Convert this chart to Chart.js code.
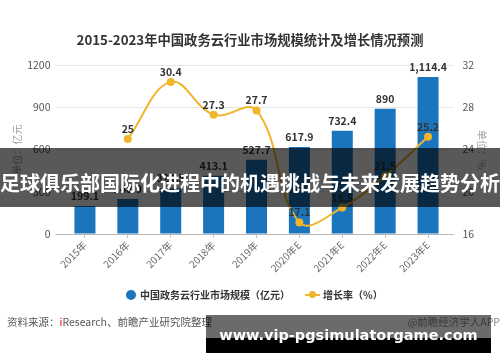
<!DOCTYPE html>
<html>
<head>
<meta charset="utf-8">
<script src="https://cdn.jsdelivr.net/npm/chart.js@4/dist/chart.umd.min.js"></script>
<style>
  html, body { margin: 0; padding: 0; background: #fff; }
  #wrap { position: relative; width: 500px; height: 362px; overflow: hidden; font-family: "Noto Sans CJK SC", sans-serif; }
  #chart { position: absolute; left: 0; top: 0; }
  .abs { position: absolute; white-space: nowrap; }
  #title { left: 0; width: 500px; top: 30px; text-align: center; font-size: 13.3px; font-weight: bold; color: #333; line-height: 20px; }
  #legend { left: 0; top: 287px; width: 500px; height: 16px; font-size: 10px; font-weight: bold; color: #333; line-height: 16px; }
  .dot { position: absolute; width: 10px; height: 10px; border-radius: 50%; }
  .seg { position: absolute; height: 2px; }
  #source { left: 7px; top: 314px; font-size: 10.5px; color: #555; line-height: 16px; }
  #source .red { color: #e60012; }
  #brand { right: 0; top: 314px; font-size: 10.5px; color: #888; line-height: 16px; }
  #band { left: 0; top: 148px; width: 500px; height: 59px; background: rgba(0,0,0,0.65); }
  #bandText { left: 0; top: 170px; width: 500px; text-align: center; font-size: 20px; font-weight: bold; color: #fff; line-height: 26px; }
  #site { left: 206px; top: 315px; width: 285px; height: 38px;
          background: linear-gradient(to bottom, rgba(0,0,0,0.58) 0, rgba(0,0,0,0.58) 23px, #000 23px, #000 38px); }
  #siteText { left: 206px; width: 285px; top: 325px; text-align: center; font-family: "DejaVu Sans", sans-serif; font-weight: bold; font-size: 14.5px; color: #fff; line-height: 20px; }
</style>
</head>
<body>
<div id="wrap">
  <canvas id="chart" width="500" height="362"></canvas>
  <div id="title" class="abs">2015-2023年中国政务云行业市场规模统计及增长情况预测</div>
  <div id="legend" class="abs">
    <div class="dot" style="left:126px; top:3px; background:#1b75bc;"></div>
    <span class="abs" style="left:140px; top:0;">中国政务云行业市场规模（亿元）</span>
    <div class="seg" style="left:305px; top:7px; width:15px; background:#f0b52b;"></div>
    <div class="dot" style="left:309px; top:4px; width:7px; height:7px; background:#f0b52b;"></div>
    <span class="abs" style="left:323px; top:0;">增长率（%）</span>
  </div>
  <div id="source" class="abs">资料来源：<span class="red">i</span>Research、前瞻产业研究院整理</div>
  <div id="brand" class="abs">@前瞻经济学人APP</div>
  <div id="band" class="abs"></div>
  <div id="bandText" class="abs">足球俱乐部国际化进程中的机遇挑战与未来发展趋势分析</div>
  <div id="site" class="abs"></div>
  <div id="siteText" class="abs">www.vip-pgsimulatorgame.com</div>
</div>
<script>
const years = ['2015年', '2016年', '2017年', '2018年', '2019年', '2020年E', '2021年E', '2022年E', '2023年E'];
const marketSize = [199.1, 248.9, 324.5, 413.1, 527.7, 617.9, 732.4, 890, 1114.4];
const growthRate = [null, 25, 30.4, 27.3, 27.7, 17.1, 18.5, 21.5, 25.2];
const sizeTicks = [0, 300, 600, 900, 1200];
const rateTicks = [16, 20, 24, 28, 32];

const FONT = '"Noto Sans CJK SC", sans-serif';
const BLUE = '#1b75bc';
const GOLD = '#f0b52b';

// value labels above bars and line points
const valueLabels = {
  id: 'valueLabels',
  afterDatasetsDraw(chart) {
    const ctx = chart.ctx;
    ctx.save();
    ctx.font = 'bold 10.5px ' + FONT;
    ctx.fillStyle = '#333';
    ctx.textAlign = 'center';
    ctx.textBaseline = 'middle';
    chart.getDatasetMeta(0).data.forEach((bar, i) => {
      ctx.fillText(marketSize[i].toLocaleString('en-US'), bar.x, bar.y - 10);
    });
    chart.getDatasetMeta(1).data.forEach((pt, i) => {
      if (growthRate[i] == null) return;
      ctx.fillText(String(growthRate[i]), pt.x, pt.y - 10);
    });
    ctx.restore();
  }
};

const gridColor = c => (c.tick && c.tick.value === c.scale.min) ? '#b5b5b5' : '#e6e6e6';

new Chart(document.getElementById('chart'), {
  data: {
    labels: years,
    datasets: [
      {
        type: 'bar',
        label: '中国政务云行业市场规模（亿元）',
        data: marketSize,
        backgroundColor: BLUE,
        yAxisID: 'y',
        barPercentage: 0.49,
        categoryPercentage: 1,
        order: 1
      },
      {
        type: 'line',
        label: '增长率（%）',
        data: growthRate,
        borderColor: GOLD,
        backgroundColor: GOLD,
        borderWidth: 2,
        pointRadius: 4,
        pointHoverRadius: 4,
        pointBorderWidth: 0,
        tension: 0.4,
        yAxisID: 'y1',
        order: 0
      }
    ]
  },
  options: {
    responsive: false,
    animation: false,
    layout: { padding: { top: 65, bottom: 0, left: 0, right: 0 } },
    plugins: {
      legend: { display: false },
      tooltip: { enabled: false }
    },
    scales: {
      x: {
        grid: { offset: false, drawOnChartArea: false, drawTicks: true, tickLength: 4, color: '#c8c8c8' },
        border: { display: false },
        ticks: { autoSkip: false, minRotation: 45, maxRotation: 45, color: '#666', padding: 1, font: { family: FONT, size: 10 } },
        afterFit: s => { s.height = 128; }
      },
      y: {
        position: 'left',
        min: sizeTicks[0],
        max: sizeTicks[sizeTicks.length - 1],
        afterBuildTicks: s => { s.ticks = sizeTicks.map(v => ({ value: v })); },
        grid: { color: gridColor, tickLength: 8, drawTicks: true },
        border: { display: false },
        ticks: { color: '#555', padding: 5, font: { family: FONT, size: 10.5 }, callback: v => String(v) },
        title: { display: true, text: '单位：亿元', color: '#a0a0a0', font: { family: FONT, size: 10 }, padding: { top: 11, bottom: 0 } },
        afterFit: s => { s.width = 63.5; }
      },
      y1: {
        position: 'right',
        min: rateTicks[0],
        max: rateTicks[rateTicks.length - 1],
        afterBuildTicks: s => { s.ticks = rateTicks.map(v => ({ value: v })); },
        grid: { color: gridColor, drawOnChartArea: false, tickLength: 4, drawTicks: true },
        border: { display: false },
        ticks: { color: '#555', padding: 9, font: { family: FONT, size: 10.5 }, callback: v => String(v) },
        title: { display: true, text: '单位：%', color: '#a0a0a0', font: { family: FONT, size: 10 }, padding: { top: 12, bottom: 0 } },
        afterFit: s => { s.width = 50.5; }
      }
    }
  },
  plugins: [valueLabels]
});
</script>
</body>
</html>
